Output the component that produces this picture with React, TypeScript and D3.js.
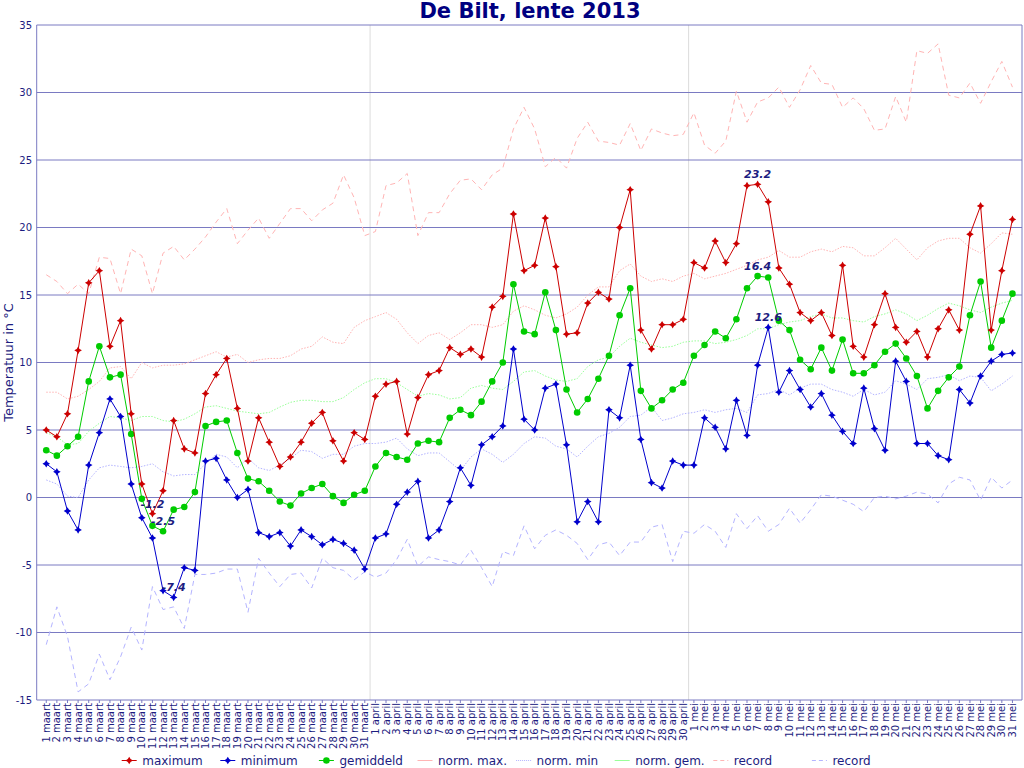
import React from "react";
import * as d3 from "d3";

const dayLabels: string[] = [
  ...Array.from({ length: 31 }, (_, i) => `${i + 1} maart`),
  ...Array.from({ length: 30 }, (_, i) => `${i + 1} april`),
  ...Array.from({ length: 31 }, (_, i) => `${i + 1} mei`),
];

const maxT = [
  5.0, 4.5, 6.2, 10.9, 15.9, 16.8, 11.2, 13.1, 6.2, 1.0, -1.2, 0.5, 5.7, 3.6, 3.3, 7.7, 9.1, 10.3, 6.6, 2.7, 5.9, 4.1, 2.3, 3.0, 4.1, 5.5, 6.3, 4.2, 2.7, 4.8, 4.3,
  7.5, 8.4, 8.6, 4.7, 7.4, 9.1, 9.4, 11.1, 10.6, 11.0, 10.4, 14.1, 14.9, 21.0, 16.8, 17.2, 20.7, 17.1, 12.1, 12.2, 14.4, 15.2, 14.7, 20.0, 22.8, 12.4, 11.0, 12.8, 12.8, 13.2,
  17.4, 17.0, 19.0, 17.4, 18.8, 23.1, 23.2, 21.9, 17.0, 15.8, 13.7, 13.1, 13.7, 12.0, 17.2, 11.2, 10.4, 12.8, 15.1, 12.6, 11.5, 12.3, 10.4, 12.5, 13.9, 12.4, 19.5, 21.6, 12.4, 16.8, 20.6,
];

const minT = [
  2.5, 1.9, -1.0, -2.4, 2.4, 4.8, 7.3, 6.0, 1.0, -1.5, -3.0, -6.9, -7.4, -5.2, -5.4, 2.7, 2.9, 1.3, 0.0, 0.6, -2.6, -2.9, -2.6, -3.6, -2.4, -2.9, -3.5, -3.1, -3.4, -3.9, -5.3,
  -3.0, -2.7, -0.5, 0.4, 1.2, -3.0, -2.4, -0.3, 2.2, 0.9, 3.9, 4.5, 5.3, 11.0, 5.8, 5.0, 8.1, 8.4, 3.9, -1.8, -0.3, -1.8, 6.5, 5.9, 9.8, 4.3, 1.1, 0.7, 2.7, 2.4,
  2.4, 5.9, 5.2, 3.6, 7.2, 4.6, 9.8, 12.6, 7.8, 9.4, 8.0, 6.7, 7.7, 6.1, 4.9, 4.0, 8.1, 5.1, 3.5, 10.1, 8.6, 4.0, 4.0, 3.1, 2.8, 8.0, 7.0, 9.0, 10.1, 10.6, 10.7,
];

const avgT = [
  3.5, 3.1, 3.8, 4.5, 8.6, 11.2, 8.9, 9.1, 4.7, -0.1, -2.1, -2.5, -0.9, -0.7, 0.4, 5.3, 5.6, 5.7, 3.3, 1.4, 1.2, 0.5, -0.3, -0.6, 0.3, 0.7, 1.0, 0.1, -0.4, 0.2, 0.5,
  2.3, 3.3, 3.0, 2.8, 4.0, 4.2, 4.1, 5.9, 6.5, 6.1, 7.1, 8.6, 10.0, 15.8, 12.3, 12.1, 15.2, 12.4, 8.0, 6.3, 7.3, 8.8, 10.5, 13.5, 15.5, 7.9, 6.6, 7.2, 8.0, 8.5,
  10.5, 11.3, 12.3, 11.8, 13.2, 15.5, 16.4, 16.3, 13.1, 12.4, 10.2, 9.5, 11.1, 9.4, 11.7, 9.2, 9.2, 9.8, 10.8, 11.4, 10.3, 9.0, 6.6, 7.9, 8.9, 9.7, 13.5, 16.0, 11.1, 13.1, 15.1,
];

const normMax = [
  7.8, 7.8, 7.3, 7.5, 8.0, 8.6, 9.6, 9.7, 8.8, 10.0, 9.6, 9.8, 9.8, 9.9, 10.2, 10.5, 10.8, 10.4, 10.6, 10.0, 10.2, 10.3, 10.3, 10.5, 11.0, 11.2, 11.9, 11.5, 11.4, 12.6, 13.1,
  13.4, 13.7, 13.2, 12.2, 11.4, 12.0, 12.2, 11.7, 12.2, 12.8, 12.8, 12.6, 12.8, 13.8, 14.2, 13.9, 13.5, 13.3, 13.6, 14.1, 15.0, 15.6, 15.6, 16.8, 17.3, 16.4, 16.0, 16.2, 16.0, 16.4,
  16.6, 16.2, 16.4, 16.6, 16.9, 17.2, 17.6, 17.8, 18.3, 17.8, 17.8, 18.2, 18.4, 18.2, 18.6, 18.5, 17.9, 17.9, 18.5, 19.2, 18.4, 17.6, 18.5, 19.0, 19.2, 19.2, 18.5, 18.1, 18.8, 19.6, 19.5,
];

const normMin = [
  1.3, 1.0, 0.1, 0.0, 1.3, 2.2, 2.4, 2.3, 2.2, 2.3, 2.5, 1.9, 1.6, 1.7, 1.7, 2.5, 3.2, 3.0, 2.2, 2.9, 2.2, 2.0, 2.4, 2.9, 3.5, 3.4, 2.9, 3.2, 3.2, 3.8, 4.0,
  4.0, 4.1, 4.4, 3.6, 3.1, 3.3, 3.3, 2.65, 2.0, 3.0, 3.6, 3.2, 2.6, 3.2, 4.0, 4.5, 4.4, 3.8, 3.6, 3.0, 3.8, 4.5, 4.75, 5.2, 6.0, 6.1, 6.7, 5.7, 5.9, 6.2,
  6.3, 6.5, 6.3, 6.5, 6.6, 6.3, 7.6, 7.7, 8.0, 7.6, 8.1, 8.4, 8.4, 8.0, 7.8, 7.5, 8.0, 7.6, 7.8, 8.65, 8.4, 8.0, 8.8, 8.9, 9.1, 8.65, 9.0, 8.9, 7.9, 8.4, 9.0,
];

const normGem = [
  4.8, 4.5, 3.9, 4.0, 4.9, 5.5, 6.0, 5.9, 5.7, 6.0, 6.0, 5.7, 5.6, 5.8, 6.2, 6.7, 6.8, 6.6, 6.4, 6.3, 6.2, 6.3, 6.7, 7.05, 7.2, 7.2, 7.1, 7.1, 7.4, 8.0, 8.5,
  8.8, 8.8, 8.5, 8.0, 7.5, 7.7, 7.6, 7.3, 7.4, 8.1, 8.3, 8.1, 8.0, 8.6, 9.3, 9.4, 9.0, 8.7, 8.6, 8.8, 9.7, 10.2, 10.4, 11.2, 11.8, 11.5, 11.3, 11.1, 11.2, 11.5,
  11.6, 11.6, 11.4, 11.5, 11.7, 12.0, 12.5, 12.5, 12.8, 13.0, 13.1, 13.4, 13.6, 13.3, 13.3, 13.1, 13.0, 13.4, 13.6, 13.9, 13.6, 13.1, 13.5, 14.0, 14.4, 14.2, 13.9, 13.7, 14.1, 14.4, 14.6,
];

const recordMax = [
  16.5, 16.0, 15.1, 15.8, 15.1, 17.8, 17.7, 15.1, 18.4, 17.9, 15.1, 18.1, 18.6, 17.6, 18.4, 19.3, 20.4, 21.4, 18.8, 19.8, 20.7, 19.2, 20.3, 21.4, 21.4, 20.5, 21.3, 21.8, 23.9, 22.2, 19.4,
  19.7, 23.1, 23.3, 24.0, 19.4, 21.1, 21.1, 22.5, 23.5, 23.6, 22.8, 23.9, 24.4, 27.3, 28.9, 27.3, 24.5, 25.2, 24.4, 26.6, 27.8, 26.4, 26.3, 26.1, 27.7, 25.7, 27.3, 27.0, 26.8, 26.9,
  28.5, 26.1, 25.5, 26.4, 30.1, 27.8, 29.3, 29.6, 30.4, 28.9, 30.2, 32.0, 30.7, 30.6, 28.9, 29.6, 28.8, 27.2, 27.3, 29.7, 27.8, 33.1, 32.9, 33.6, 29.8, 29.6, 30.7, 29.2, 30.8, 32.3, 30.4,
];

const recordMin = [
  -10.9, -8.1, -10.3, -14.4, -13.8, -11.6, -13.5, -11.8, -9.6, -11.3, -6.6, -8.3, -8.1, -9.7, -5.7, -5.7, -5.6, -5.3, -5.3, -8.5, -4.5, -5.6, -6.6, -5.7, -5.6, -6.7, -4.5, -5.2, -5.4, -6.1, -5.5,
  -5.9, -5.6, -4.6, -3.1, -5.1, -4.4, -4.6, -4.75, -5.0, -3.9, -5.2, -6.6, -4.0, -4.3, -2.1, -3.8, -2.8, -2.4, -2.8, -3.4, -4.6, -3.5, -3.3, -4.3, -3.3, -3.3, -2.2, -2.0, -4.75, -2.5,
  -2.65, -2.0, -2.5, -3.7, -1.2, -2.3, -1.35, -2.5, -2.0, -0.8, -1.9, -0.9, 0.2, 0.1, -0.2, -0.5, -1.05, 0.0, 0.1, -0.1, 0.1, 0.4, 0.25, -0.4, 1.0, 1.5, 1.3, -0.2, 1.5, 0.7, 1.3,
];

const yTicks = [-15, -10, -5, 0, 5, 10, 15, 20, 25, 30, 35];
const title = "De Bilt, lente 2013";
const yTitle = "Temperatuur in °C";

type Series = {
  name: string;
  values: number[];
  color: string;
  dash?: string;
  legendDash?: string;
  marker?: "star" | "circle";
};

const series: Series[] = [
  { name: "maximum", values: maxT, color: "#cc0000", marker: "star" },
  { name: "minimum", values: minT, color: "#0000cc", marker: "star" },
  { name: "gemiddeld", values: avgT, color: "#00cc00", marker: "circle" },
  { name: "norm. max.", values: normMax, color: "#ffb4b4", dash: "1.5,1.5" },
  { name: "norm. min", values: normMin, color: "#b4b4ff", dash: "1.5,1.5", legendDash: "1,1" },
  { name: "norm. gem.", values: normGem, color: "#99ff99", dash: "1.5,1.5" },
  { name: "record", values: recordMax, color: "#ffb4b4", dash: "5,4", legendDash: "4,3" },
  { name: "record", values: recordMin, color: "#b4b4ff", dash: "5,4", legendDash: "4,3" },
];

const W = 1024;
const H = 768;
const L = 36.7;
const R = 1022;
const T = 25;
const B = 700;
const NAVY = "#1c1c80";
const GRID = "#7a7ac2";

const starPath = (cx: number, cy: number, o = 3.8, n = 1.4) =>
  `M${cx},${cy - o}L${cx + n},${cy - n}L${cx + o},${cy}L${cx + n},${cy + n}L${cx},${cy + o}L${cx - n},${cy + n}L${cx - o},${cy}L${cx - n},${cy - n}Z`;

function Marker({ kind, x, y, color }: { kind?: string; x: number; y: number; color: string }) {
  if (kind === "star") return <path d={starPath(x, y)} fill={color} />;
  if (kind === "circle") return <circle cx={x} cy={y} r={3.3} fill={color} />;
  return null;
}

export default function App() {
  const idx = d3.range(dayLabels.length);
  const x = d3.scalePoint<number>().domain(idx).range([L, R]).padding(0.9);
  const y = d3.scaleLinear().domain([-15, 35]).range([B, T]);
  const line = (vals: number[]) =>
    d3
      .line<number>()
      .x((_, i) => x(i) as number)
      .y((v) => y(v))(vals) as string;

  const monthBreaks = idx
    .filter((i) => i > 0 && dayLabels[i].startsWith("1 "))
    .map((i) => ((x(i - 1) as number) + (x(i) as number)) / 2);

  const extremes: { i: number; v: number }[] = [];
  [maxT, avgT, minT].forEach((vals) => {
    const iMax = d3.maxIndex(vals);
    const iMin = d3.minIndex(vals);
    extremes.push({ i: iMax, v: vals[iMax] }, { i: iMin, v: vals[iMin] });
  });

  const drawOrder = [7, 6, 4, 5, 3, 2, 1, 0];

  return (
    <svg
      width={W}
      height={H}
      style={{ position: "absolute", left: 0, top: 0, background: "#fff" }}
      fontFamily="DejaVu Sans, Verdana, sans-serif"
    >
      <text x={530} y={18} textAnchor="middle" fontSize={21} fontWeight="bold" fill="#000080">
        {title}
      </text>

      {monthBreaks.map((mx, k) => (
        <line key={k} x1={mx} x2={mx} y1={T} y2={B} stroke="#dcdcdc" strokeWidth={1} />
      ))}

      {yTicks.map((t) => (
        <g key={t}>
          <line x1={L} x2={R} y1={y(t)} y2={y(t)} stroke={GRID} strokeWidth={1} />
          <text x={32} y={y(t)} dy="0.35em" textAnchor="end" fontSize={10} fill={NAVY}>
            {t}
          </text>
        </g>
      ))}
      <line x1={L} x2={L} y1={T} y2={B} stroke={GRID} strokeWidth={1} />
      <line x1={R} x2={R} y1={T} y2={B} stroke={GRID} strokeWidth={1} />

      <text
        transform={`translate(13,${(T + B) / 2}) rotate(-90)`}
        textAnchor="middle"
        fontSize={13}
        fill={NAVY}
      >
        {yTitle}
      </text>

      {idx.map((i) => (
        <g key={i}>
          <line x1={x(i)} x2={x(i)} y1={B} y2={B + 3} stroke={GRID} strokeWidth={1} />
          <text
            transform={`translate(${(x(i) as number) + 3.6},${B + 3}) rotate(-90)`}
            textAnchor="end"
            fontSize={10}
            fill={NAVY}
          >
            {dayLabels[i]}
          </text>
        </g>
      ))}

      {drawOrder.map((k) => {
        const s = series[k];
        return (
          <g key={k}>
            <path d={line(s.values)} fill="none" stroke={s.color} strokeWidth={1} strokeDasharray={s.dash} />
            {s.marker &&
              s.values.map((v, i) => (
                <Marker key={i} kind={s.marker} x={x(i) as number} y={y(v)} color={s.color} />
              ))}
          </g>
        );
      })}

      {extremes.map((e, k) => (
        <text
          key={k}
          x={x(e.i)}
          y={y(e.v) - 6}
          textAnchor="middle"
          fontSize={11}
          fontWeight="bold"
          fontStyle="italic"
          fill={NAVY}
        >
          {e.v.toFixed(1)}
        </text>
      ))}

      {series.map((s, k) => {
        const lx = 121.7 + k * 98.6;
        const ly = 760.5;
        return (
          <g key={k}>
            <line x1={lx} x2={lx + 15} y1={ly} y2={ly} stroke={s.color} strokeWidth={1} strokeDasharray={s.legendDash} />
            <Marker kind={s.marker} x={lx + 7.5} y={ly} color={s.color} />
            <text x={lx + 20.5} y={ly} dy="0.35em" fontSize={12} fill={NAVY}>
              {s.name}
            </text>
          </g>
        );
      })}
    </svg>
  );
}
